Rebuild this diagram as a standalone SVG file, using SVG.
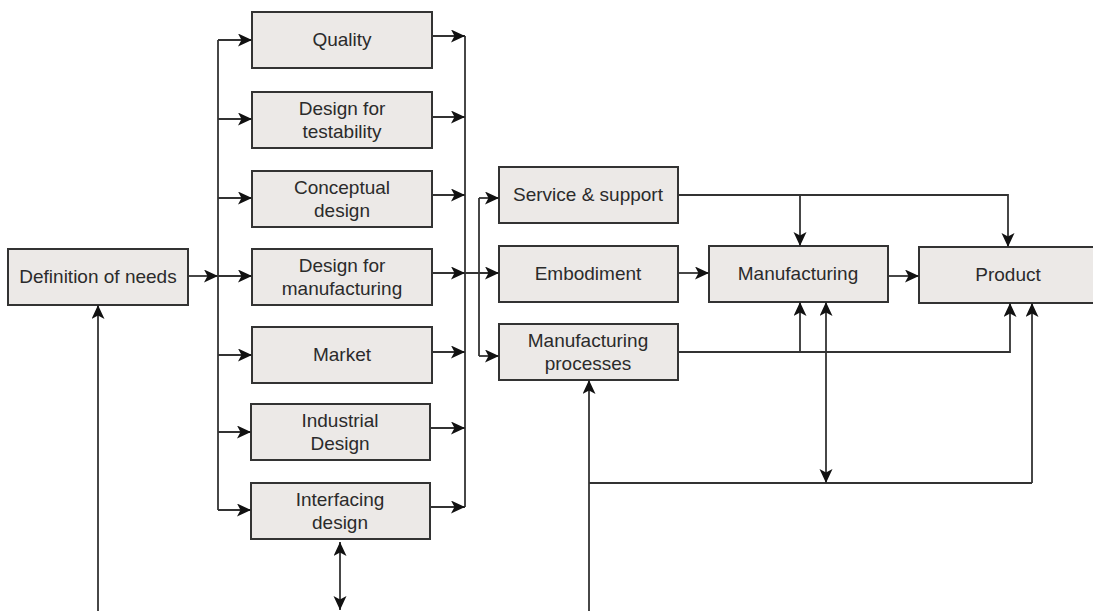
<svg xmlns="http://www.w3.org/2000/svg" width="1093" height="611" viewBox="0 0 1093 611">
<defs>
<marker id="ah" markerUnits="userSpaceOnUse" markerWidth="16" markerHeight="14" refX="14" refY="6.5" orient="auto-start-reverse">
<path d="M0,0 L14,6.5 L0,13 L3.5,6.5 z" fill="#111"/>
</marker>
<style>
.box{fill:#ece9e7;stroke:#333;stroke-width:2}
.t{font-family:"Liberation Sans",Arial,sans-serif;font-size:19px;fill:#2b2b2b;text-anchor:middle}
.c{fill:none;stroke:#333;stroke-width:1.8}
.a{fill:none;stroke:#333;stroke-width:1.8;marker-end:url(#ah)}
.b{fill:none;stroke:#333;stroke-width:1.8;marker-start:url(#ah);marker-end:url(#ah)}
</style>
</defs>
<rect width="1093" height="611" fill="#fff"/>

<g id="definition">
<rect class="box" x="8" y="249" width="180" height="56"/>
<text class="t" x="98" y="283">Definition of needs</text>
</g>
<g id="quality">
<rect class="box" x="252" y="12" width="180" height="56"/>
<text class="t" x="342" y="46">Quality</text>
</g>
<g id="testability">
<rect class="box" x="252" y="92" width="180" height="56"/>
<text class="t" x="342" y="115">Design for</text>
<text class="t" x="342" y="138">testability</text>
</g>
<g id="conceptual">
<rect class="box" x="252" y="171" width="180" height="56"/>
<text class="t" x="342" y="194">Conceptual</text>
<text class="t" x="342" y="217">design</text>
</g>
<g id="dfm">
<rect class="box" x="252" y="249" width="180" height="56"/>
<text class="t" x="342" y="272">Design for</text>
<text class="t" x="342" y="295">manufacturing</text>
</g>
<g id="market">
<rect class="box" x="252" y="327" width="180" height="56"/>
<text class="t" x="342" y="361">Market</text>
</g>
<g id="industrial">
<rect class="box" x="251" y="404" width="179" height="56"/>
<text class="t" x="340" y="427">Industrial</text>
<text class="t" x="340" y="450">Design</text>
</g>
<g id="interfacing">
<rect class="box" x="251" y="483" width="179" height="56"/>
<text class="t" x="340" y="506">Interfacing</text>
<text class="t" x="340" y="529">design</text>
</g>
<g id="service">
<rect class="box" x="499" y="167" width="179" height="56"/>
<text class="t" x="588" y="201">Service &amp; support</text>
</g>
<g id="embodiment">
<rect class="box" x="499" y="246" width="179" height="56"/>
<text class="t" x="588" y="280">Embodiment</text>
</g>
<g id="mfgprocesses">
<rect class="box" x="499" y="324" width="179" height="56"/>
<text class="t" x="588" y="347">Manufacturing</text>
<text class="t" x="588" y="370">processes</text>
</g>
<g id="manufacturing">
<rect class="box" x="709" y="246" width="179" height="56"/>
<text class="t" x="798" y="280">Manufacturing</text>
</g>
<g id="product">
<rect class="box" x="919" y="247" width="180" height="56"/>
<text class="t" x="1008" y="281">Product</text>
</g>

<g id="connectors">
<path class="a" d="M188,276 H218"/>
<path class="c" d="M218,40 V510"/>
<path class="a" d="M218,40 H252"/>
<path class="a" d="M218,119 H252"/>
<path class="a" d="M218,198 H252"/>
<path class="a" d="M218,276 H252"/>
<path class="a" d="M218,355 H252"/>
<path class="a" d="M218,432 H251"/>
<path class="a" d="M218,510 H251"/>
<path class="c" d="M465,36 V507"/>
<path class="a" d="M432,36 H465"/>
<path class="a" d="M432,117 H465"/>
<path class="a" d="M432,195 H465"/>
<path class="a" d="M432,273 H465"/>
<path class="a" d="M432,352 H465"/>
<path class="a" d="M430,428 H465"/>
<path class="a" d="M430,507 H465"/>
<path class="a" d="M465,273 H499"/>
<path class="c" d="M479,198 V356"/>
<path class="a" d="M479,198 H499"/>
<path class="a" d="M479,356 H499"/>
<path class="a" d="M678,273 H709"/>
<path class="a" d="M888,276 H919"/>
<path class="a" d="M678,195 H1008 V247"/>
<path class="a" d="M800,195 V246"/>
<path class="a" d="M678,352 H1010 V303"/>
<path class="a" d="M800,352 V302"/>
<path class="a" d="M589,611 V380"/>
<path class="c" d="M589,483 H1032"/>
<path class="b" d="M826,483 V302"/>
<path class="a" d="M1032,483 V303"/>
<path class="a" d="M98,611 V305"/>
<path class="b" d="M340,610 V542"/>
</g>
</svg>
